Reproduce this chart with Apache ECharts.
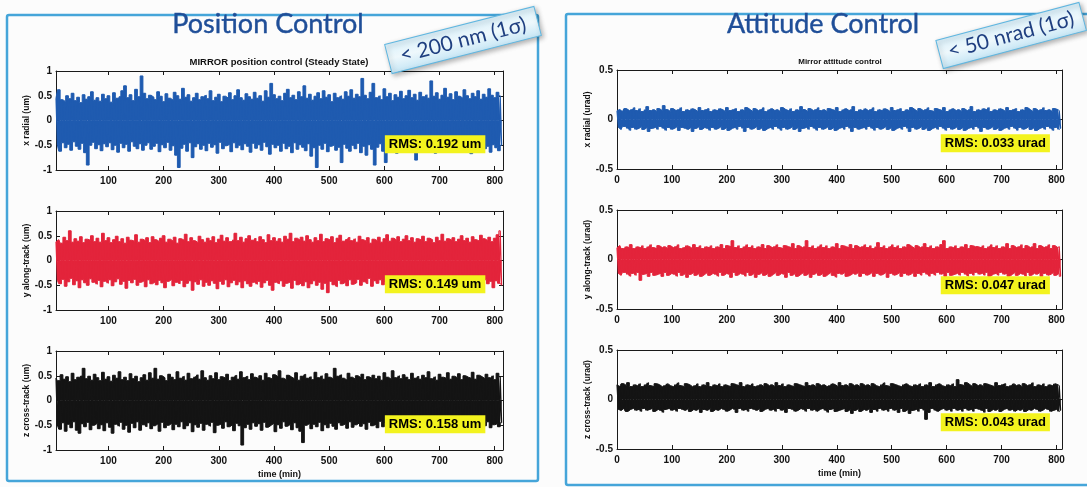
<!DOCTYPE html>
<html><head><meta charset="utf-8">
<script src="https://cdn.jsdelivr.net/npm/echarts@6/dist/echarts.min.js"></script>
<style>html,body{margin:0;padding:0;background:#fcfcfc}#c{width:1087px;height:487px}</style>
</head><body><div id="c"></div><script>
// ---- Data (envelope peaks, one pair every 5 min) ----
const posTicks = [100,200,300,400,500,600,700,800];
const attTicks = [0,100,200,300,400,500,600,700,800];
const posStart = 5, attStart = 0, sampleStep = 5;

const posX_upper = [0.45,0.62,0.42,0.38,0.50,0.44,0.55,0.40,0.47,0.36,0.52,0.43,0.48,0.58,0.41,0.46,0.39,0.53,
0.44,0.50,0.37,0.56,0.45,0.49,0.60,0.70,0.46,0.52,0.40,0.63,0.48,0.90,0.55,0.44,0.51,0.47,
0.42,0.58,0.49,0.38,0.54,0.45,0.41,0.57,0.50,0.43,0.65,0.47,0.52,0.39,0.46,0.55,0.42,0.48,
0.51,0.44,0.60,0.40,0.47,0.53,0.38,0.49,0.45,0.56,0.42,0.50,0.62,0.46,0.41,0.54,0.48,0.43,
0.57,0.45,0.50,0.39,0.60,0.47,0.75,0.52,0.44,0.49,0.40,0.55,0.63,0.46,0.51,0.42,0.58,0.48,
0.70,0.45,0.53,0.41,0.49,0.56,0.44,0.60,0.47,0.52,0.38,0.55,0.46,0.50,0.43,0.58,0.49,0.62,
0.45,0.53,0.48,0.85,0.51,0.44,0.57,0.75,0.46,0.50,0.42,0.64,0.48,0.55,0.40,0.52,0.47,0.59,
0.44,0.50,0.61,0.46,0.53,0.41,0.57,0.48,0.52,0.45,0.80,0.49,0.56,0.43,0.51,0.65,0.47,0.54,
0.42,0.58,0.49,0.45,0.62,0.50,0.44,0.55,0.48,0.60,0.43,0.53,0.47,0.64,0.51,0.46,0.57,0.50];
const posX_lower = [-0.50,-0.62,-0.45,-0.55,-0.48,-0.60,-0.43,-0.52,-0.58,-0.46,-0.65,-0.90,-0.50,-0.44,-0.57,-0.49,-0.61,-0.47,
-0.53,-0.45,-0.59,-0.50,-0.64,-0.46,-0.55,-0.48,-0.62,-0.43,-0.52,-0.57,-0.47,-0.60,-0.50,-0.45,-0.58,-0.52,
-0.46,-0.63,-0.49,-0.55,-0.44,-0.60,-0.51,-0.70,-0.95,-0.56,-0.48,-0.62,-0.45,-0.75,-0.53,-0.47,-0.58,-0.50,
-0.61,-0.46,-0.54,-0.49,-0.66,-0.44,-0.57,-0.51,-0.48,-0.63,-0.45,-0.55,-0.50,-0.59,-0.47,-0.52,-0.64,-0.46,
-0.56,-0.49,-0.60,-0.44,-0.53,-0.68,-0.48,-0.55,-0.50,-0.62,-0.46,-0.57,-0.52,-0.65,-0.45,-0.58,-0.49,-0.54,
-0.61,-0.47,-0.72,-0.55,-0.95,-0.50,-0.58,-0.46,-0.63,-0.52,-0.49,-0.60,-0.54,-0.85,-0.48,-0.56,-0.62,-0.50,
-0.57,-0.46,-0.65,-0.52,-0.70,-0.49,-0.58,-0.90,-0.54,-0.47,-0.62,-0.85,-0.51,-0.56,-0.48,-0.66,-0.53,-0.60,
-0.47,-0.58,-0.52,-0.64,-0.80,-0.50,-0.57,-0.46,-0.61,-0.53,-0.49,-0.66,-0.55,-0.48,-0.59,-0.51,-0.63,-0.47,
-0.56,-0.50,-0.62,-0.45,-0.58,-0.53,-0.67,-0.48,-0.55,-0.60,-0.46,-0.57,-0.52,-0.64,-0.49,-0.55,-0.61,-0.50];

const posY_upper = [0.38,0.42,0.35,0.47,0.40,0.60,0.37,0.44,0.39,0.48,0.36,0.43,0.41,0.50,0.38,0.45,0.37,0.55,
0.40,0.46,0.36,0.42,0.49,0.38,0.44,0.35,0.47,0.41,0.39,0.52,0.37,0.43,0.40,0.46,0.36,0.48,
0.42,0.38,0.45,0.50,0.37,0.43,0.39,0.47,0.35,0.44,0.41,0.53,0.38,0.46,0.40,0.36,0.49,0.42,
0.37,0.45,0.40,0.48,0.36,0.43,0.51,0.39,0.46,0.38,0.42,0.55,0.40,0.47,0.37,0.44,0.50,0.41,
0.45,0.38,0.48,0.42,0.36,0.52,0.40,0.46,0.39,0.44,0.37,0.49,0.43,0.55,0.38,0.45,0.41,0.47,
0.39,0.50,0.42,0.37,0.46,0.40,0.53,0.38,0.44,0.41,0.48,0.36,0.45,0.51,0.39,0.43,0.47,0.40,
0.44,0.37,0.49,0.42,0.39,0.46,0.35,0.43,0.40,0.47,0.37,0.44,0.52,0.39,0.45,0.41,0.48,0.38,
0.43,0.50,0.40,0.46,0.37,0.44,0.41,0.49,0.38,0.45,0.42,0.36,0.47,0.40,0.53,0.39,0.44,0.41,
0.46,0.38,0.43,0.50,0.40,0.45,0.37,0.48,0.42,0.39,0.51,0.44,0.40,0.47,0.38,0.45,0.52,0.60];
const posY_lower = [-0.40,-0.47,-0.38,-0.52,-0.43,-0.36,-0.49,-0.41,-0.55,-0.39,-0.45,-0.50,-0.37,-0.44,-0.48,-0.40,-0.53,-0.42,
-0.46,-0.39,-0.51,-0.43,-0.37,-0.48,-0.42,-0.56,-0.40,-0.45,-0.38,-0.50,-0.44,-0.41,-0.53,-0.39,-0.47,-0.43,
-0.49,-0.40,-0.45,-0.55,-0.42,-0.38,-0.51,-0.44,-0.47,-0.40,-0.53,-0.46,-0.41,-0.60,-0.43,-0.48,-0.39,-0.52,
-0.44,-0.50,-0.41,-0.46,-0.57,-0.42,-0.48,-0.39,-0.53,-0.45,-0.40,-0.49,-0.43,-0.55,-0.41,-0.47,-0.52,-0.44,
-0.48,-0.42,-0.54,-0.45,-0.40,-0.50,-0.60,-0.44,-0.47,-0.41,-0.52,-0.46,-0.43,-0.56,-0.40,-0.49,-0.45,-0.51,
-0.43,-0.55,-0.47,-0.41,-0.50,-0.44,-0.58,-0.46,-0.65,-0.42,-0.49,-0.53,-0.40,-0.47,-0.44,-0.51,-0.39,-0.48,
-0.45,-0.38,-0.50,-0.43,-0.47,-0.36,-0.52,-0.41,-0.46,-0.39,-0.49,-0.44,-0.37,-0.51,-0.42,-0.47,-0.40,-0.54,
-0.43,-0.48,-0.39,-0.45,-0.41,-0.50,-0.37,-0.46,-0.42,-0.52,-0.40,-0.44,-0.38,-0.49,-0.43,-0.47,-0.41,-0.53,
-0.39,-0.45,-0.42,-0.50,-0.38,-0.46,-0.43,-0.48,-0.40,-0.52,-0.44,-0.39,-0.47,-0.42,-0.55,-0.41,-0.46,-0.50];

const posZ_upper = [0.45,0.40,0.52,0.43,0.48,0.38,0.55,0.42,0.47,0.50,0.65,0.44,0.49,0.41,0.53,0.46,0.40,0.57,
0.43,0.48,0.39,0.51,0.45,0.58,0.42,0.47,0.40,0.54,0.44,0.49,0.38,0.46,0.52,0.41,0.56,0.45,
0.65,0.43,0.50,0.46,0.40,0.53,0.47,0.42,0.58,0.45,0.49,0.41,0.55,0.44,0.48,0.52,0.43,0.60,
0.46,0.41,0.50,0.44,0.56,0.42,0.48,0.45,0.53,0.40,0.47,0.51,0.43,0.58,0.46,0.49,0.42,0.54,
0.47,0.44,0.50,0.41,0.55,0.46,0.43,0.52,0.48,0.60,0.45,0.42,0.51,0.47,0.44,0.56,0.41,0.49,
0.53,0.45,0.48,0.42,0.57,0.46,0.50,0.43,0.54,0.47,0.44,0.65,0.49,0.52,0.45,0.41,0.55,0.47,
0.43,0.50,0.46,0.53,0.42,0.48,0.45,0.51,0.44,0.49,0.41,0.56,0.47,0.43,0.60,0.46,0.50,0.44,
0.52,0.47,0.42,0.55,0.45,0.49,0.43,0.51,0.46,0.58,0.44,0.48,0.41,0.53,0.47,0.45,0.56,0.43,
0.49,0.46,0.54,0.42,0.50,0.47,0.45,0.57,0.43,0.51,0.48,0.44,0.53,0.46,0.50,0.42,0.55,0.48];
const posZ_lower = [-0.50,-0.58,-0.45,-0.62,-0.48,-0.55,-0.43,-0.60,-0.66,-0.47,-0.53,-0.44,-0.59,-0.50,-0.46,-0.57,-0.49,-0.61,
-0.45,-0.54,-0.66,-0.48,-0.52,-0.44,-0.58,-0.50,-0.64,-0.46,-0.55,-0.43,-0.60,-0.49,-0.53,-0.45,-0.57,-0.51,
-0.47,-0.62,-0.44,-0.55,-0.50,-0.46,-0.59,-0.48,-0.53,-0.43,-0.57,-0.51,-0.45,-0.63,-0.49,-0.54,-0.46,-0.60,
-0.48,-0.52,-0.44,-0.65,-0.50,-0.47,-0.56,-0.43,-0.53,-0.49,-0.61,-0.46,-0.51,-0.90,-0.55,-0.48,-0.58,-0.45,
-0.52,-0.47,-0.60,-0.44,-0.54,-0.50,-0.46,-0.63,-0.49,-0.56,-0.43,-0.52,-0.48,-0.59,-0.45,-0.55,-0.62,-0.85,
-0.50,-0.46,-0.57,-0.48,-0.53,-0.44,-0.61,-0.49,-0.55,-0.46,-0.52,-0.58,-0.45,-0.50,-0.47,-0.56,-0.43,-0.54,
-0.49,-0.45,-0.52,-0.47,-0.58,-0.44,-0.51,-0.48,-0.55,-0.42,-0.53,-0.46,-0.60,-0.49,-0.45,-0.52,-0.47,-0.56,
-0.44,-0.50,-0.46,-0.54,-0.48,-0.43,-0.57,-0.49,-0.52,-0.45,-0.59,-0.47,-0.51,-0.44,-0.55,-0.48,-0.62,-0.46,
-0.53,-0.47,-0.50,-0.44,-0.56,-0.49,-0.45,-0.52,-0.48,-0.58,-0.46,-0.51,-0.43,-0.55,-0.49,-0.47,-0.53,-0.45];

const attX_upper = [0.09,0.10,0.08,0.11,0.09,0.10,0.12,0.09,0.11,0.08,0.10,0.13,0.09,0.10,0.08,0.11,0.09,0.14,
0.10,0.08,0.11,0.09,0.10,0.12,0.08,0.10,0.09,0.11,0.10,0.08,0.12,0.09,0.10,0.11,0.08,0.10,
0.09,0.11,0.10,0.08,0.12,0.09,0.10,0.11,0.08,0.10,0.09,0.12,0.10,0.08,0.11,0.09,0.10,0.12,
0.08,0.10,0.11,0.09,0.10,0.08,0.12,0.10,0.09,0.11,0.08,0.10,0.09,0.13,0.10,0.08,0.11,0.09,
0.10,0.12,0.09,0.10,0.08,0.11,0.10,0.09,0.12,0.08,0.10,0.11,0.09,0.10,0.13,0.08,0.10,0.09,
0.11,0.09,0.10,0.12,0.08,0.10,0.09,0.11,0.10,0.08,0.12,0.09,0.10,0.11,0.08,0.10,0.09,0.12,
0.10,0.08,0.11,0.09,0.10,0.12,0.09,0.08,0.11,0.10,0.09,0.12,0.08,0.10,0.11,0.09,0.10,0.08,
0.11,0.09,0.10,0.13,0.08,0.10,0.09,0.11,0.10,0.12,0.08,0.10,0.09,0.11,0.10,0.08,0.12,0.09,
0.10,0.11,0.08,0.10,0.09,0.12,0.10,0.08,0.11,0.09,0.10,0.12,0.09,0.10,0.08,0.11,0.10,0.09];
const attX_lower = [-0.08,-0.10,-0.07,-0.09,-0.11,-0.08,-0.10,-0.09,-0.07,-0.10,-0.08,-0.12,-0.09,-0.08,-0.10,-0.07,-0.09,-0.11,
-0.08,-0.10,-0.09,-0.07,-0.11,-0.08,-0.09,-0.10,-0.08,-0.12,-0.09,-0.07,-0.10,-0.08,-0.09,-0.11,-0.08,-0.10,
-0.09,-0.07,-0.10,-0.08,-0.11,-0.09,-0.08,-0.10,-0.07,-0.09,-0.12,-0.08,-0.10,-0.09,-0.07,-0.10,-0.08,-0.11,
-0.09,-0.08,-0.10,-0.07,-0.09,-0.11,-0.08,-0.10,-0.09,-0.07,-0.10,-0.08,-0.12,-0.09,-0.08,-0.10,-0.07,-0.09,
-0.11,-0.08,-0.10,-0.09,-0.07,-0.10,-0.08,-0.11,-0.09,-0.08,-0.10,-0.07,-0.09,-0.12,-0.08,-0.10,-0.09,-0.08,
-0.10,-0.07,-0.09,-0.11,-0.08,-0.10,-0.09,-0.07,-0.10,-0.08,-0.11,-0.09,-0.08,-0.10,-0.07,-0.09,-0.12,-0.08,
-0.10,-0.09,-0.07,-0.10,-0.08,-0.11,-0.09,-0.08,-0.10,-0.07,-0.09,-0.11,-0.08,-0.10,-0.09,-0.07,-0.10,-0.08,
-0.11,-0.09,-0.08,-0.10,-0.07,-0.09,-0.12,-0.08,-0.10,-0.09,-0.07,-0.10,-0.08,-0.11,-0.09,-0.08,-0.10,-0.07,
-0.09,-0.11,-0.08,-0.10,-0.09,-0.07,-0.10,-0.08,-0.11,-0.09,-0.08,-0.10,-0.07,-0.09,-0.11,-0.08,-0.10,-0.09];

const attY_upper = [0.12,0.14,0.11,0.13,0.12,0.15,0.11,0.13,0.12,0.14,0.11,0.13,0.15,0.12,0.11,0.14,0.12,0.13,
0.11,0.14,0.12,0.13,0.15,0.11,0.12,0.14,0.13,0.11,0.15,0.12,0.14,0.11,0.13,0.12,0.14,0.11,
0.13,0.12,0.15,0.11,0.14,0.13,0.19,0.12,0.14,0.11,0.13,0.15,0.12,0.14,0.11,0.13,0.12,0.15,
0.11,0.14,0.12,0.13,0.15,0.12,0.11,0.14,0.13,0.12,0.16,0.11,0.14,0.12,0.13,0.19,0.12,0.14,
0.11,0.13,0.15,0.12,0.14,0.11,0.13,0.12,0.16,0.11,0.14,0.13,0.12,0.15,0.11,0.14,0.12,0.13,
0.15,0.12,0.14,0.11,0.13,0.17,0.12,0.14,0.11,0.13,0.15,0.12,0.14,0.11,0.13,0.12,0.15,0.13,
0.11,0.14,0.12,0.13,0.16,0.12,0.14,0.11,0.13,0.12,0.15,0.19,0.11,0.13,0.12,0.14,0.11,0.13,
0.12,0.15,0.11,0.14,0.13,0.13,0.12,0.14,0.11,0.13,0.15,0.12,0.14,0.11,0.13,0.12,0.16,0.11,
0.14,0.12,0.13,0.15,0.11,0.14,0.12,0.13,0.16,0.11,0.14,0.12,0.13,0.15,0.11,0.14,0.12,0.13];
const attY_lower = [-0.14,-0.16,-0.13,-0.15,-0.17,-0.14,-0.16,-0.13,-0.21,-0.15,-0.14,-0.17,-0.13,-0.16,-0.15,-0.14,-0.17,-0.13,
-0.16,-0.14,-0.15,-0.17,-0.13,-0.16,-0.14,-0.18,-0.15,-0.13,-0.16,-0.14,-0.17,-0.15,-0.13,-0.16,-0.14,-0.15,
-0.17,-0.13,-0.16,-0.14,-0.15,-0.18,-0.13,-0.16,-0.14,-0.15,-0.17,-0.13,-0.16,-0.14,-0.18,-0.15,-0.13,-0.16,
-0.14,-0.17,-0.15,-0.13,-0.16,-0.14,-0.15,-0.18,-0.13,-0.16,-0.14,-0.17,-0.15,-0.13,-0.16,-0.14,-0.18,-0.15,
-0.13,-0.16,-0.14,-0.17,-0.15,-0.13,-0.16,-0.18,-0.14,-0.15,-0.13,-0.17,-0.16,-0.14,-0.15,-0.13,-0.17,-0.14,
-0.16,-0.15,-0.13,-0.17,-0.14,-0.16,-0.15,-0.13,-0.18,-0.14,-0.16,-0.15,-0.13,-0.17,-0.14,-0.16,-0.15,-0.13,
-0.17,-0.14,-0.16,-0.13,-0.15,-0.17,-0.14,-0.16,-0.13,-0.15,-0.14,-0.17,-0.13,-0.16,-0.15,-0.14,-0.16,-0.13,
-0.15,-0.17,-0.14,-0.16,-0.13,-0.15,-0.14,-0.16,-0.13,-0.17,-0.15,-0.14,-0.16,-0.13,-0.15,-0.14,-0.17,-0.15,
-0.13,-0.16,-0.14,-0.15,-0.17,-0.13,-0.16,-0.14,-0.15,-0.13,-0.17,-0.14,-0.16,-0.15,-0.13,-0.16,-0.14,-0.17];

const attZ_upper = [0.15,0.13,0.16,0.14,0.17,0.13,0.15,0.14,0.16,0.13,0.15,0.17,0.14,0.13,0.16,0.15,0.13,0.14,
0.16,0.14,0.13,0.15,0.17,0.14,0.13,0.16,0.15,0.13,0.14,0.16,0.13,0.15,0.14,0.17,0.13,0.15,
0.14,0.16,0.13,0.15,0.14,0.13,0.16,0.15,0.14,0.17,0.13,0.15,0.14,0.16,0.13,0.14,0.15,0.13,
0.16,0.14,0.15,0.13,0.17,0.14,0.16,0.13,0.15,0.14,0.13,0.16,0.15,0.14,0.13,0.17,0.14,0.15,
0.13,0.16,0.14,0.15,0.13,0.14,0.16,0.15,0.13,0.17,0.14,0.15,0.13,0.16,0.14,0.15,0.13,0.16,
0.14,0.15,0.13,0.16,0.14,0.13,0.15,0.17,0.14,0.13,0.16,0.15,0.14,0.13,0.15,0.16,0.14,0.13,
0.15,0.14,0.16,0.13,0.15,0.14,0.17,0.13,0.15,0.16,0.14,0.13,0.15,0.14,0.16,0.13,0.20,0.15,
0.14,0.17,0.15,0.13,0.16,0.14,0.15,0.13,0.16,0.15,0.14,0.13,0.17,0.14,0.15,0.16,0.13,0.14,
0.16,0.14,0.15,0.13,0.16,0.14,0.15,0.17,0.13,0.15,0.14,0.16,0.13,0.15,0.14,0.16,0.15,0.14];
const attZ_lower = [-0.10,-0.11,-0.09,-0.12,-0.10,-0.09,-0.11,-0.10,-0.12,-0.09,-0.11,-0.10,-0.09,-0.12,-0.10,-0.11,-0.13,-0.10,
-0.09,-0.11,-0.10,-0.12,-0.09,-0.10,-0.11,-0.09,-0.12,-0.10,-0.11,-0.09,-0.13,-0.10,-0.11,-0.09,-0.12,-0.10,
-0.11,-0.09,-0.10,-0.12,-0.11,-0.09,-0.10,-0.13,-0.09,-0.11,-0.10,-0.12,-0.09,-0.10,-0.11,-0.09,-0.12,-0.10,
-0.09,-0.11,-0.10,-0.12,-0.09,-0.11,-0.10,-0.13,-0.09,-0.10,-0.12,-0.11,-0.09,-0.10,-0.12,-0.09,-0.11,-0.10,
-0.12,-0.10,-0.09,-0.11,-0.13,-0.10,-0.09,-0.12,-0.11,-0.10,-0.09,-0.12,-0.10,-0.14,-0.11,-0.09,-0.12,-0.10,
-0.11,-0.09,-0.13,-0.10,-0.12,-0.09,-0.11,-0.10,-0.12,-0.09,-0.11,-0.10,-0.13,-0.09,-0.12,-0.10,-0.14,-0.11,
-0.10,-0.12,-0.09,-0.11,-0.20,-0.13,-0.09,-0.11,-0.12,-0.10,-0.09,-0.11,-0.10,-0.12,-0.09,-0.11,-0.10,-0.12,
-0.09,-0.11,-0.10,-0.12,-0.09,-0.10,-0.11,-0.13,-0.09,-0.12,-0.10,-0.11,-0.09,-0.12,-0.10,-0.09,-0.11,-0.10,
-0.12,-0.10,-0.11,-0.09,-0.12,-0.10,-0.11,-0.09,-0.10,-0.12,-0.11,-0.09,-0.10,-0.12,-0.11,-0.10,-0.12,-0.11];

const rmsLabels = ['RMS: 0.192 um','RMS: 0.149 um','RMS: 0.158 um','RMS: 0.033 urad','RMS: 0.047 urad','RMS: 0.043 urad'];
const rmsAnchor = [[783,-0.48],[783,-0.48],[783,-0.48],[788,-0.24],[788,-0.26],[788,-0.23]];

// ---- Build ----
function interleave(up, lo, t0) {
  const out = [];
  for (let i = 0; i < up.length; i++) {
    out.push([t0 + i * sampleStep, up[i]]);
    out.push([t0 + i * sampleStep + sampleStep / 2, lo[i]]);
  }
  return out;
}
function envelope(arr, t0, shift) {
  return arr.map((v, i) => [t0 + i * sampleStep + shift, v]);
}
const BLUE = '#1f5bb0', RED = '#e3243b', BLACK = '#141414';
const plots = [
  {g:{left:56, top:71, width:447, height:99}, up:posX_upper, lo:posX_lower, t0:posStart, c:BLUE,  name:'x radial (um)',     pos:true},
  {g:{left:56, top:211, width:447, height:99}, up:posY_upper, lo:posY_lower, t0:posStart, c:RED,   name:'y along-track (um)', pos:true},
  {g:{left:56, top:351, width:447, height:99}, up:posZ_upper, lo:posZ_lower, t0:posStart, c:BLACK, name:'z cross-track (um)', pos:true, xname:'time (min)'},
  {g:{left:617, top:70, width:445, height:99}, up:attX_upper, lo:attX_lower, t0:attStart, c:BLUE,  name:'x radial (urad)',     pos:false},
  {g:{left:617, top:210, width:445, height:99}, up:attY_upper, lo:attY_lower, t0:attStart, c:RED,   name:'y along-track (urad)', pos:false},
  {g:{left:617, top:350, width:445, height:99}, up:attZ_upper, lo:attZ_lower, t0:attStart, c:BLACK, name:'z cross-track (urad)', pos:false, xname:'time (min)'}
];
const AX = '#1a1a1a';
const labFont = {fontFamily:'"Liberation Sans", Arial, sans-serif', fontWeight:'bold', fontSize:10, color:'#111'};
const grids = [], xAxes = [], yAxes = [], series = [];
plots.forEach((p, i) => {
  grids.push(Object.assign({outerBoundsMode:'none', containLabel:false}, p.g));
  const ticks = p.pos ? posTicks : attTicks;
  const xmin = p.pos ? 5 : 0, xmax = p.pos ? 815 : 810;
  const ymin = p.pos ? -1 : -0.5, ymax = p.pos ? 1 : 0.5;
  const baseX = {gridIndex:i, type:'value', min:xmin, max:xmax, splitLine:{show:false},
    axisLine:{show:true, onZero:false, lineStyle:{color:AX, width:1}}};
  xAxes.push(Object.assign({}, baseX, {position:'bottom',
    axisTick:{show:true, inside:true, length:4, customValues:ticks, lineStyle:{color:AX}},
    axisLabel:Object.assign({show:true, margin:6, customValues:ticks}, labFont),
    name:p.xname || '', nameLocation:'middle', nameGap:20,
    nameTextStyle:{fontFamily:'"Liberation Sans", Arial, sans-serif', fontWeight:'bold', fontSize:9, color:'#111'}}));
  xAxes.push(Object.assign({}, baseX, {position:'top',
    axisTick:{show:true, inside:true, length:4, customValues:ticks, lineStyle:{color:AX}},
    axisLabel:{show:false}}));
  const baseY = {gridIndex:i, type:'value', min:ymin, max:ymax, interval:0.5, splitLine:{show:false},
    axisLine:{show:true, onZero:false, lineStyle:{color:AX, width:1}},
    axisTick:{show:true, inside:true, length:4, lineStyle:{color:AX}}};
  yAxes.push(Object.assign({}, baseY, {position:'left',
    axisLabel:Object.assign({show:true, margin:4}, labFont),
    name:p.name, nameLocation:'middle', nameRotate:90, nameGap:p.pos ? 22 : 20,
    nameTextStyle:{fontFamily:'"Liberation Sans", Arial, sans-serif', fontWeight:'bold', fontSize:8.5, color:'#111'}}));
  yAxes.push(Object.assign({}, baseY, {position:'right', axisLabel:{show:false}}));
  const common = {type:'line', xAxisIndex:2*i, yAxisIndex:2*i, symbol:'none', showSymbol:false,
    sampling:null, clip:true, silent:true, z:2};
  // solid body of the trace: upper and lower envelopes filled to zero
  series.push(Object.assign({}, common, {data:envelope(p.up, p.t0, 0), step:'middle',
    lineStyle:{color:p.c, width:1}, areaStyle:{color:p.c, opacity:1}}));
  series.push(Object.assign({}, common, {data:envelope(p.lo, p.t0, sampleStep / 2), step:'middle',
    lineStyle:{color:p.c, width:1}, areaStyle:{color:p.c, opacity:1}}));
  // the trace itself, swinging between the envelope peaks
  series.push(Object.assign({}, common, {data:interleave(p.up, p.lo, p.t0),
    lineStyle:{color:p.c, width:1.2}, z:3}));
});

const titleFont = 'Lato, Calibri, "Open Sans", "Noto Sans", sans-serif';
const graphic = [
  {type:'rect', shape:{x:7, y:15, width:531, height:466, r:2}, style:{fill:null, stroke:'#45a5d9', lineWidth:2.5}, z:1},
  {type:'rect', shape:{x:566, y:14, width:540, height:471, r:2}, style:{fill:null, stroke:'#45a5d9', lineWidth:2.5}, z:1},
  {type:'text', style:{text:'Position Control', x:268, y:24, align:'center', verticalAlign:'middle', font:'27px ' + titleFont, fill:'#1f4e98', stroke:'#1f4e98', lineWidth:0.4}, z:5},
  {type:'text', style:{text:'Attitude Control', x:823, y:24, align:'center', verticalAlign:'middle', font:'27px ' + titleFont, fill:'#1f4e98', stroke:'#1f4e98', lineWidth:0.4}, z:5},
  {type:'text', style:{text:'MIRROR position control (Steady State)', x:279, y:62, align:'center', verticalAlign:'middle', font:'bold 9.5px "Liberation Sans", Arial, sans-serif', fill:'#111'}, z:5},
  {type:'text', style:{text:'Mirror attitude control', x:840, y:62, align:'center', verticalAlign:'middle', font:'bold 8px "Liberation Sans", Arial, sans-serif', fill:'#111'}, z:5},
  {type:'group', x:463, y:40, rotation:0.25, z:100, children:[
    {type:'rect', z:100, shape:{x:-77, y:-15, width:154, height:30}, style:{
      fill:{type:'linear', x:0, y:0, x2:0, y2:1, colorStops:[{offset:0, color:'#d9f0fa'}, {offset:0.5, color:'#eef8fc'}, {offset:1, color:'#c6e6f5'}]},
      stroke:'#5fb6e0', lineWidth:1, shadowBlur:5, shadowColor:'rgba(0,0,0,0.3)', shadowOffsetX:2, shadowOffsetY:2}},
    {type:'text', z:101, style:{text:'< 200 nm (1σ)', x:0, y:0, align:'center', verticalAlign:'middle', font:'21px ' + titleFont, fill:'#1f3f80'}}
  ]},
  {type:'group', x:1011, y:35, rotation:0.26, z:100, children:[
    {type:'rect', z:100, shape:{x:-74, y:-14, width:148, height:29}, style:{
      fill:{type:'linear', x:0, y:0, x2:0, y2:1, colorStops:[{offset:0, color:'#d9f0fa'}, {offset:0.5, color:'#eef8fc'}, {offset:1, color:'#c6e6f5'}]},
      stroke:'#5fb6e0', lineWidth:1, shadowBlur:5, shadowColor:'rgba(0,0,0,0.3)', shadowOffsetX:2, shadowOffsetY:2}},
    {type:'text', z:101, style:{text:'< 50 nrad (1σ)', x:0, y:0, align:'center', verticalAlign:'middle', font:'21px ' + titleFont, fill:'#1f3f80'}}
  ]}
];

const chart = echarts.init(document.getElementById('c'), null, {renderer:'canvas'});
chart.setOption({animation:false, backgroundColor:'#fcfcfc', grid:grids, xAxis:xAxes, yAxis:yAxes, series:series, graphic:graphic});

// RMS boxes anchored through the library's own scales
plots.forEach((p, i) => {
  const px = chart.convertToPixel({xAxisIndex:2*i, yAxisIndex:2*i}, rmsAnchor[i]);
  graphic.push({type:'text', z:50, style:{text:rmsLabels[i], x:px[0], y:px[1], align:'right', verticalAlign:'middle',
    font:'bold 13px "Liberation Sans", Arial, sans-serif', fill:'#000', backgroundColor:'#f3f31e', padding:[3,4,2,4]}});
});
chart.setOption({graphic:graphic});
</script></body></html>
